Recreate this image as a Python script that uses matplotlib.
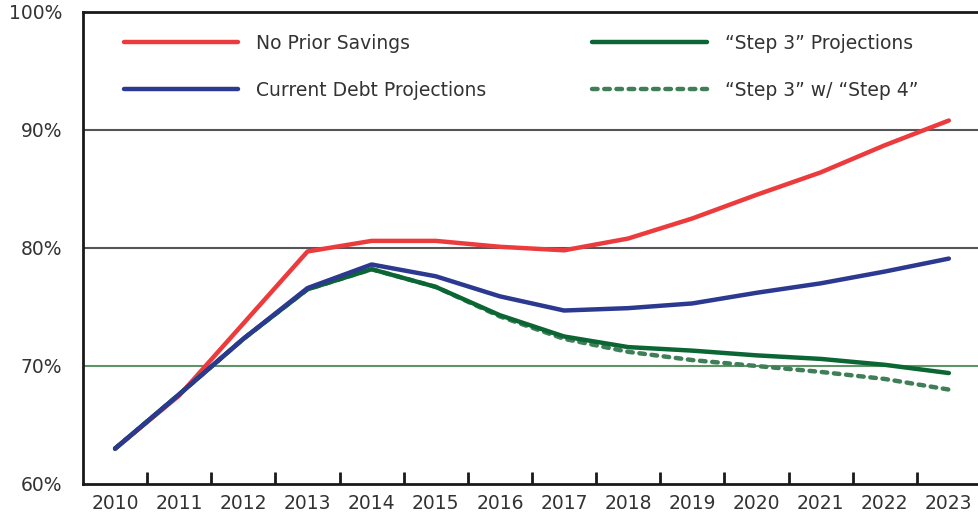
import numpy as np
import matplotlib
matplotlib.use("Agg")
import matplotlib.pyplot as plt
from matplotlib.ticker import FixedLocator, FuncFormatter

# data
years = np.arange(2010, 2024)
no_prior = [63.0, 67.5, 73.6, 79.7, 80.6, 80.6, 80.1, 79.8, 80.8, 82.5, 84.5, 86.4, 88.7, 90.8]
current_debt = [63.0, 67.6, 72.3, 76.6, 78.6, 77.6, 75.9, 74.7, 74.9, 75.3, 76.2, 77.0, 78.0, 79.1]
step3 = [63.0, 67.6, 72.3, 76.5, 78.2, 76.7, 74.3, 72.5, 71.6, 71.3, 70.9, 70.6, 70.1, 69.4]
step3_step4 = [63.0, 67.6, 72.3, 76.5, 78.2, 76.7, 74.2, 72.3, 71.2, 70.5, 70.0, 69.5, 68.9, 68.0]
labels = ["No Prior Savings", "Current Debt Projections",
          "\u201cStep 3\u201d Projections", "\u201cStep 3\u201d w/ \u201cStep 4\u201d"]
yticks = [60, 70, 80, 90, 100]

txt = "#333333"
fs = 13.5
plt.rcParams['font.family'] = ['DejaVu Sans']

fig = plt.figure(figsize=(9.79, 5.12), dpi=100)
ax = fig.add_axes([0.0848, 0.0547, 0.9152, 0.922])

# grid lines
ax.axhline(90, color="#555555", lw=1.5, zorder=1)
ax.axhline(80, color="#555555", lw=1.5, zorder=1)
ax.axhline(70, color="#5f9469", lw=1.5, zorder=1)

lw = 3.2
l_red, = ax.plot(years, no_prior, color="#EC3B3D", lw=lw, solid_capstyle="round", zorder=3)
l_dash, = ax.plot(years, step3_step4, color="#3F7F57", lw=lw, linestyle=(0, (1.25, 1.5)),
                  dash_capstyle="round", zorder=4)
l_green, = ax.plot(years, step3, color="#0B6634", lw=lw, solid_capstyle="round", zorder=5)
l_blue, = ax.plot(years, current_debt, color="#2B3990", lw=lw, solid_capstyle="round", zorder=6)

ax.set_xlim(2009.5, 2023.47)
ax.set_ylim(60, 100)

for s in ["left", "bottom", "top"]:
    ax.spines[s].set_linewidth(2)
    ax.spines[s].set_color("#1a1a1a")
ax.spines["right"].set_visible(False)

ax.set_yticks(yticks)
ax.yaxis.set_major_formatter(FuncFormatter(lambda v, p: f"{int(v)}%"))
ax.tick_params(axis="y", length=0, pad=15, labelsize=fs, labelcolor=txt)

ax.set_xticks(years)
ax.set_xticklabels([str(y) for y in years])
ax.tick_params(axis="x", which="major", length=0, pad=7, labelsize=fs, labelcolor=txt)
ax.xaxis.set_minor_locator(FixedLocator(years[:-1] + 0.5))
ax.tick_params(axis="x", which="minor", direction="in", length=9, width=2, color="#1a1a1a")

handles = [l_red, l_blue, l_green, l_dash]
leg = ax.legend(handles, [labels[0], labels[1], labels[2], labels[3]], ncol=2,
                loc="upper left", bbox_to_anchor=(0.027, 0.99), frameon=False,
                fontsize=fs, handlelength=6.1, handletextpad=0.95,
                labelspacing=1.5, columnspacing=5.65)
for t in leg.get_texts():
    t.set_color(txt)

fig.savefig("out.png", dpi=100)
